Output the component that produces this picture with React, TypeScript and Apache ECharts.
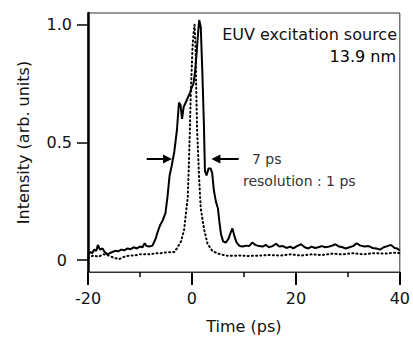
import React, { useEffect, useRef } from "react";
import * as echarts from "echarts";

// Measured (solid) trace: time (ps) and intensity (arb. units)
const measuredTime = [
  -20, -19.6, -19.2, -18.8, -18.4, -18.1, -17.7, -17.2, -16.8, -16.3, -15.8, -15.3, -14.8, -14.2,
  -13.6, -13.0, -12.4, -11.8, -11.2, -10.6, -10.0, -9.5, -9.1, -8.7, -8.2, -7.6, -7.0, -6.6, -6.1,
  -5.6, -5.1, -4.7, -4.3, -3.9, -3.4, -2.9, -2.5, -2.2, -1.9, -1.6, -1.2, -0.8, -0.4, -0.1, 0.3,
  0.6, 0.9, 1.2, 1.4, 1.7, 2.0, 2.3, 2.5, 2.8, 3.2, 3.6, 3.9, 4.2, 4.6, 5.0, 5.3, 5.6, 6.0, 6.5,
  7.0, 7.5, 7.8, 8.2, 8.6, 9.2, 9.8, 10.4, 11.0, 11.6, 12.2, 12.9, 13.6, 14.2, 14.8, 15.5, 16.2,
  16.8, 17.5, 18.2, 18.9, 19.5, 20.2, 21.0, 21.7, 22.4, 23.0, 23.7, 24.3, 25.0, 25.7, 26.4, 27.0,
  27.6, 28.3, 29.0, 29.6, 30.3, 31.0, 31.7, 32.4, 33.2, 34.0, 34.8, 35.5, 36.2, 36.9, 37.6, 38.3,
  39.0, 39.5, 40.0,
];
const measuredIntensity = [
  0.02, 0.035, 0.03, 0.045, 0.04, 0.065, 0.045, 0.05, 0.035, 0.025, 0.03, 0.035, 0.04, 0.038,
  0.045, 0.042, 0.05, 0.047, 0.055, 0.05, 0.058, 0.055, 0.072, 0.06, 0.058, 0.062, 0.09, 0.12, 0.15,
  0.17, 0.2, 0.27, 0.36, 0.4, 0.46, 0.55, 0.67, 0.66, 0.6, 0.65, 0.67, 0.69, 0.71, 0.73, 0.75,
  0.8, 0.88, 0.97, 1.02, 0.99, 0.8, 0.58, 0.38, 0.36, 0.39, 0.39, 0.37, 0.3, 0.25, 0.22, 0.16, 0.11, 0.08, 0.075,
  0.09, 0.12, 0.135, 0.1, 0.075, 0.06, 0.058, 0.062, 0.06, 0.075, 0.065, 0.06, 0.058, 0.065, 0.055, 0.06, 0.07,
  0.058, 0.06, 0.052, 0.058, 0.05, 0.06, 0.068, 0.055, 0.05, 0.058, 0.052, 0.055, 0.06, 0.055, 0.058, 0.062,
  0.068, 0.058, 0.055, 0.05, 0.055, 0.06, 0.072, 0.062, 0.058, 0.06, 0.052, 0.05, 0.045, 0.055, 0.06, 0.065,
  0.052, 0.05, 0.04,
];

// Excitation source (dotted) profile
const sourceTime = [
  -20, -19, -18, -17, -16, -15, -14, -13, -12, -11, -10, -9, -8, -7, -6, -5, -4, -3.4, -2.9, -2.1,
  -1.5, -1.1, -0.8, -0.6, -0.4, -0.3, -0.2, -0.1, 0.1, 0.3, 0.5, 0.7, 0.85, 1.0, 1.4, 1.7, 2.35,
  3.0, 3.9, 5, 7, 9, 11, 13, 15, 17, 19, 21, 23, 25, 27, 29, 31, 33, 35, 37, 39, 40,
];
const sourceIntensity = [
  0.01, 0.02, 0.015, 0.025, 0.02, 0.01, 0.005, 0.015, 0.02, 0.02, 0.025, 0.025, 0.025, 0.03, 0.03,
  0.033, 0.034, 0.035, 0.05, 0.08, 0.13, 0.21, 0.27, 0.4, 0.55, 0.64, 0.72, 0.78, 0.9, 0.96, 1.0,
  0.9, 0.7, 0.55, 0.34, 0.22, 0.13, 0.07, 0.04, 0.028, 0.018, 0.02, 0.018, 0.02, 0.022, 0.02, 0.025,
  0.02, 0.025, 0.022, 0.028, 0.025, 0.03, 0.025, 0.03, 0.028, 0.032, 0.03,
];

const xTicks = [-20, 0, 20, 40];
const yTicks = [0, 0.5, 1.0];

// FWHM arrows (time, intensity)
const leftArrow = [[-8.7, 0.43], [-4.7, 0.43]];
const rightArrow = [[9.0, 0.43], [4.6, 0.43]];

const FONT = '"DejaVu Sans", sans-serif';

export default function App() {
  const ref = useRef<HTMLDivElement>(null);
  useEffect(() => {
    if (!ref.current) return;
    const chart = echarts.init(ref.current, undefined, { renderer: "svg" });
    const measured = measuredTime.map((t, i) => [t, measuredIntensity[i]]);
    const source = sourceTime.map((t, i) => [t, sourceIntensity[i]]);
    chart.setOption({
      animation: false,
      backgroundColor: "#fff",
      grid: {
        left: 88,
        right: 11,
        top: 13,
        bottom: 68,
        show: true,
        borderColor: "#333",
        borderWidth: 1,
        backgroundColor: "transparent",
      },
      xAxis: {
        type: "value",
        min: xTicks[0],
        max: xTicks[xTicks.length - 1],
        interval: 20,
        name: "Time (ps)",
        nameLocation: "middle",
        nameGap: 46,
        nameTextStyle: { fontFamily: FONT, fontSize: 16, color: "#111" },
        axisLine: { show: true, onZero: false, lineStyle: { color: "#333", width: 1 } },
        axisTick: { show: true, inside: false, length: 13, lineStyle: { color: "#000", width: 2 } },
        minorTick: { show: true, splitNumber: 2, length: 5, lineStyle: { color: "#000", width: 1.5 } },
        axisLabel: { fontFamily: FONT, fontSize: 16, color: "#111", margin: 18 },
        splitLine: { show: false },
      },
      yAxis: {
        type: "value",
        min: -0.05,
        max: 1.05,
        name: "Intensity (arb. units)",
        nameLocation: "middle",
        nameGap: 57,
        nameTextStyle: { fontFamily: FONT, fontSize: 16, color: "#111" },
        axisLine: { show: true, onZero: false, lineStyle: { color: "#000", width: 2.5 } },
        axisTick: {
          show: true,
          inside: false,
          length: 11,
          customValues: yTicks,
          lineStyle: { color: "#000", width: 1.5 },
        },
        axisLabel: {
          fontFamily: FONT,
          fontSize: 16,
          color: "#111",
          margin: 16,
          customValues: yTicks,
          formatter: (v: number) => (v === 0 ? "{z|0}" : v.toFixed(1)),
          rich: { z: { fontFamily: FONT, fontSize: 16, color: "#111", padding: [0, 5, 0, 0] } },
        },
        splitLine: { show: false },
      },
      series: [
        {
          name: "source",
          type: "line",
          data: source,
          showSymbol: false,
          symbol: "none",
          lineStyle: { color: "#000", width: 2, type: [1, 3.2], cap: "round" },
          z: 2,
        },
        {
          name: "measured",
          type: "line",
          data: measured,
          showSymbol: false,
          symbol: "none",
          lineStyle: { color: "#000", width: 2 },
          z: 3,
          markLine: {
            silent: true,
            symbol: ["none", "triangle"],
            symbolSize: 9,
            label: { show: false },
            lineStyle: { color: "#000", width: 2, type: "solid" },
            data: [
              [{ coord: leftArrow[0] }, { coord: leftArrow[1] }],
              [{ coord: rightArrow[0] }, { coord: rightArrow[1] }],
            ],
          },
        },
      ],
      graphic: [
        {
          type: "text",
          x: 397,
          y: 34,
          style: {
            text: "EUV excitation source",
            align: "right",
            verticalAlign: "middle",
            font: `16px ${FONT}`,
            fill: "#111",
          },
        },
        {
          type: "text",
          x: 396,
          y: 56,
          style: {
            text: "13.9 nm",
            align: "right",
            verticalAlign: "middle",
            font: `16px ${FONT}`,
            fill: "#000",
          },
        },
        {
          type: "text",
          x: 252,
          y: 159,
          style: {
            text: "7 ps",
            align: "left",
            verticalAlign: "middle",
            font: `14px ${FONT}`,
            fill: "#333",
          },
        },
        {
          type: "text",
          x: 243,
          y: 181,
          style: {
            text: "resolution : 1 ps",
            align: "left",
            verticalAlign: "middle",
            font: `14px ${FONT}`,
            fill: "#333",
          },
        },
      ],
    });
    return () => chart.dispose();
  }, []);
  return (
    <div
      ref={ref}
      style={{ position: "fixed", left: 0, top: 0, width: 413, height: 340, background: "#fff" }}
    />
  );
}
